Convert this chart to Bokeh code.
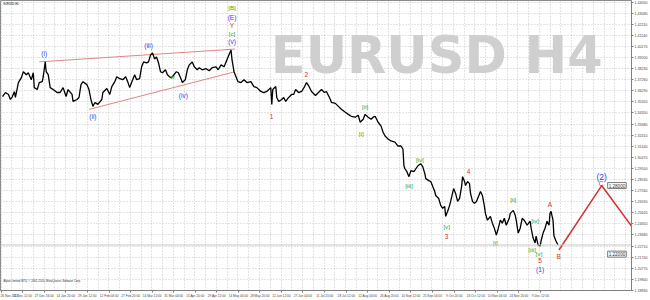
from bokeh.plotting import figure
from bokeh.models import Range1d, FixedTicker, Span, Label
from bokeh.core.properties import value
from bokeh.embed import file_html
from bokeh.resources import INLINE

symbol_title = "EURUSD,H4"
watermark = "EURUSD H4"
copyright_text = "Alpari Limited MT4, \u00a9 2001-2014, MetaQuotes Software Corp."

# H4 bar index and close price
bar_index = [
    6, 15, 24, 30, 36, 42, 45, 51, 54, 63,
    69, 78, 84, 93, 99, 102, 111, 117, 126, 129,
    135, 138, 144, 150, 159, 171, 180, 189, 198, 204,
    216, 219, 231, 237, 243, 249, 261, 267, 273, 279,
    285, 294, 306, 309, 321, 330, 336, 345, 351, 360,
    369, 378, 384, 390, 399, 405, 411, 420, 426, 432,
    441, 447, 453, 459, 465, 471, 477, 483, 489, 498,
    504, 513, 519, 531, 537, 546, 549, 558, 564, 570,
    579, 585, 594,
    600, 609, 621, 630, 639, 651, 657, 666, 675, 681,
    687, 696, 699, 705, 711, 717, 726, 735, 744, 756,
    765, 774, 786, 795, 804, 816, 819, 822, 831, 834,
    840, 849, 855, 861, 870, 879, 885, 891, 900, 909,
    918, 924, 930, 939, 951, 960, 969, 978, 984, 996,
    999, 1011, 1020, 1029, 1041, 1050, 1059, 1071, 1080, 1086,
    1095, 1101, 1110, 1119, 1125, 1131, 1140, 1149, 1155, 1161,
    1170, 1179, 1191, 1200, 1209,
    1215, 1218, 1221, 1227, 1233, 1239, 1248, 1254, 1260, 1269,
    1275, 1281, 1284, 1293, 1299, 1305, 1311, 1314, 1323, 1329,
    1335, 1341, 1344, 1350, 1356, 1359, 1368, 1374, 1380, 1386,
    1392, 1395, 1401, 1404, 1410, 1416, 1419, 1425, 1431, 1437,
    1443, 1449, 1455, 1461, 1464, 1470, 1479, 1485, 1491, 1497,
    1503, 1509, 1515, 1521, 1527, 1536, 1539, 1548, 1554, 1557,
    1563, 1569, 1575, 1581, 1590, 1599, 1602, 1608, 1614, 1617,
    1623, 1629, 1632, 1638, 1644, 1650, 1656, 1659, 1662, 1668,
    1671, 1677, 1683,
]
close_price = [
    1.3579, 1.3614, 1.3597, 1.3553, 1.3579, 1.3623, 1.3571, 1.3657, 1.3701, 1.3744,
    1.3796, 1.3770, 1.3787, 1.3726, 1.3787, 1.3657, 1.3640, 1.3701, 1.3709, 1.3752,
    1.3882, 1.3796, 1.3770, 1.3657, 1.3640, 1.3614, 1.3614, 1.3657, 1.3579, 1.3640,
    1.3597, 1.3536, 1.3553, 1.3571, 1.3683, 1.3709, 1.3683, 1.3640, 1.3553, 1.3493,
    1.3527, 1.3510, 1.3553, 1.3614, 1.3649, 1.3597, 1.3666, 1.3709, 1.3752, 1.3735,
    1.3726, 1.3752, 1.3709, 1.3657, 1.3726, 1.3770, 1.3726, 1.3735, 1.3839, 1.3882,
    1.3874, 1.3882, 1.3943, 1.3960, 1.3908, 1.3925, 1.3874, 1.3796, 1.3787, 1.3813,
    1.3770, 1.3744, 1.3752, 1.3796, 1.3787, 1.3726, 1.3701, 1.3726, 1.3813, 1.3856,
    1.3882, 1.3839, 1.3813,
    1.3831, 1.3813, 1.3822, 1.3804, 1.3831, 1.3839, 1.3813, 1.3856, 1.3839, 1.3882,
    1.3925, 1.3986, 1.3899, 1.3796, 1.3752, 1.3709, 1.3701, 1.3726, 1.3701, 1.3709,
    1.3666, 1.3657, 1.3623, 1.3614, 1.3623, 1.3657, 1.3510, 1.3640, 1.3666, 1.3571,
    1.3536, 1.3553, 1.3571, 1.3536, 1.3571, 1.3597, 1.3597, 1.3640, 1.3614, 1.3623,
    1.3666, 1.3701, 1.3675, 1.3623, 1.3588, 1.3614, 1.3640, 1.3614, 1.3623, 1.3553,
    1.3527, 1.3519, 1.3493, 1.3467, 1.3441, 1.3423, 1.3406, 1.3398, 1.3415, 1.3354,
    1.3380, 1.3423, 1.3398, 1.3380, 1.3398, 1.3406, 1.3354, 1.3320, 1.3267, 1.3233,
    1.3207, 1.3190, 1.3181, 1.3146, 1.3146,
    1.3120, 1.2973, 1.2947, 1.2921, 1.2878, 1.2930, 1.2921, 1.2947, 1.2973, 1.2991,
    1.2964, 1.2904, 1.2861, 1.2843, 1.2835, 1.2791, 1.2748, 1.2713, 1.2687, 1.2627,
    1.2601, 1.2618, 1.2531, 1.2575, 1.2627, 1.2661, 1.2774, 1.2731, 1.2661, 1.2687,
    1.2791, 1.2878, 1.2835, 1.2800, 1.2835, 1.2817, 1.2731, 1.2661, 1.2644, 1.2661,
    1.2705, 1.2748, 1.2713, 1.2618, 1.2557, 1.2497, 1.2531, 1.2471, 1.2427, 1.2367,
    1.2427, 1.2497, 1.2471, 1.2514, 1.2453, 1.2514, 1.2557, 1.2583, 1.2540, 1.2497,
    1.2384, 1.2427, 1.2514, 1.2497, 1.2453, 1.2488, 1.2427, 1.2341, 1.2298, 1.2358,
    1.2280, 1.2271, 1.2315, 1.2384, 1.2427, 1.2488, 1.2453, 1.2557, 1.2575, 1.2497,
    1.2358, 1.2315, 1.2280,
]

# wedge trend lines
upper_line_bar = [117, 708]
upper_line_price = [1.3882, 1.3994]
lower_line_bar = [267, 708]
lower_line_price = [1.3466, 1.3796]

# projected B-C path
projection_bar = [1686, 1815, 1905]
projection_price = [1.2236, 1.2800, 1.2445]

# horizontal-line price tags
level_prices = [1.28000, 1.22000]
level_tag_bar = 1833

# wave labels by colour
blue_text = ["(i)", "(ii)", "(iii)", "(iv)", "(E)", "(v)", "(1)"]
blue_bar = [132, 279, 447, 552, 699, 699, 1629]
blue_price = [1.3952, 1.3406, 1.4029, 1.3588, 1.4272, 1.4064, 1.2064]
big_blue_text = ["(2)"]
big_blue_bar = [1815]
big_blue_price = [1.2878]

green_text = ["[B]", "[c]", "w", "[i]", "[ii]", "[iii]", "[iv]", "[v]",
              "[i]", "[ii]", "[iii]", "[iv]", "[v]"]
green_bar = [699, 699, 519, 1089, 1101, 1233, 1266, 1347,
             1494, 1548, 1605, 1614, 1626]
green_price = [1.4359, 1.4134, 1.3752, 1.3259, 1.3493, 1.2800, 1.3025, 1.2445,
               1.2306, 1.2679, 1.2237, 1.2497, 1.2202]

red_text = ["Y", "1", "2", "3", "4", "5", "A", "B", "C"]
red_bar = [699, 818, 923, 1347, 1413, 1629, 1659, 1685, 1813]
red_price = [1.4203, 1.3406, 1.3770, 1.2358, 1.2921, 1.2142, 1.2635, 1.2176, 1.2817]

# axes
price_ticks = [1.4405, 1.4308, 1.4211, 1.4114, 1.4017, 1.3920, 1.3823, 1.3726,
               1.3629, 1.3532, 1.3435, 1.3338, 1.3241, 1.3144, 1.3047, 1.2950,
               1.2853, 1.2756, 1.2659, 1.2562, 1.2465, 1.2368, 1.2271, 1.2174,
               1.2077, 1.1980, 1.1883]
date_ticks = [2, 67, 132, 197, 262, 328, 393, 458, 523, 588, 653, 718, 783,
              848, 913, 979, 1044, 1109, 1174, 1239, 1304, 1370, 1435, 1500,
              1565, 1630]
date_labels = ["26 Nov 2013", "11 Dec 12:00", "27 Dec 16:00", "14 Jan 20:00",
               "29 Jan 12:00", "12 Feb 04:00", "27 Feb 20:00", "14 Mar 12:00",
               "31 Mar 04:00", "15 Apr 20:00", "29 Apr 12:00", "14 May 04:00",
               "28 May 20:00", "12 Jun 12:00", "27 Jun 04:00", "11 Jul 20:00",
               "28 Jul 12:00", "12 Aug 04:00", "26 Aug 20:00", "10 Sep 12:00",
               "25 Sep 04:00", "9 Oct 20:00", "24 Oct 12:00", "10 Nov 04:00",
               "24 Nov 20:00", "9 Dec 12:00"]

FONT = "Liberation Sans"
BLUE = "#3A3AF2"
GREEN = "#2DA52D"
RED = "#D63030"

p = figure(width=650, height=300, output_backend="svg", toolbar_location=None,
           x_range=Range1d(0, 1905), y_range=Range1d(1.1882, 1.4419),
           y_axis_location="right", background_fill_color="white",
           border_fill_color="white")
p.min_border_left = 0
p.min_border_top = 0
p.min_border_right = 0
p.min_border_bottom = 0
p.outline_line_color = "#8C8C8C"

# grid
half = (date_ticks[1] - date_ticks[0]) / 2.0
p.xgrid.ticker = FixedTicker(ticks=[date_ticks[0] + half * k for k in range(59)])
p.ygrid.ticker = FixedTicker(ticks=price_ticks)
for g in (p.xgrid, p.ygrid):
    g.grid_line_color = "#C8C8C8"
    g.grid_line_dash = "1 2"
    g.grid_line_width = 1

# axes
xa = p.xaxis[0]
xa.ticker = FixedTicker(ticks=date_ticks)
xa.major_label_overrides = {t: s for t, s in zip(date_ticks, date_labels)}
xa.major_label_text_align = "left"
xa.major_label_text_font = FONT
xa.major_label_text_font_size = "3.2px"
xa.major_label_standoff = 1
xa.major_tick_out = 2
xa.major_tick_in = 0
xa.minor_tick_out = 0
xa.minor_tick_in = 0
xa.axis_line_color = "#808080"
xa.major_tick_line_color = "#808080"

ya = p.yaxis[0]
ya.ticker = FixedTicker(ticks=price_ticks)
ya.major_label_overrides = {t: f"{t:.5f}" for t in price_ticks}
ya.major_label_text_font = FONT
ya.major_label_text_font_size = "3.6px"
ya.major_label_standoff = 1
ya.major_tick_out = 2
ya.major_tick_in = 0
ya.minor_tick_out = 0
ya.minor_tick_in = 0
ya.axis_line_color = "#808080"
ya.major_tick_line_color = "#808080"

# watermark
p.text(x=[816], y=[1.3934], text=[watermark], text_font=value("DejaVu Sans"),
       text_font_size=value("51px"), text_font_style="bold",
       text_color="#CFCFCF", text_align="left", text_baseline="alphabetic")

# current price line
p.add_layout(Span(location=close_price[-1], dimension="width",
                  line_color="#C8C8C8", line_width=1))

# wedge lines
p.line(upper_line_bar, upper_line_price, line_color="#E38585", line_width=1)
p.line(lower_line_bar, lower_line_price, line_color="#E38585", line_width=1)

# price
p.line(bar_index, close_price, line_color="black", line_width=1.3)

# projection
p.line(projection_bar, projection_price, line_color=RED, line_width=1.5)

# wave labels
def labels(xs, ys, ts, color, size):
    p.text(x=xs, y=ys, text=ts, text_font=value(FONT), text_font_size=value(size),
           text_color=color, text_align="center", text_baseline="middle")

labels(blue_bar, blue_price, blue_text, BLUE, "6.5px")
labels(big_blue_bar, big_blue_price, big_blue_text, BLUE, "8.5px")
labels(green_bar, green_price, green_text, GREEN, "6.2px")
labels(red_bar, red_price, red_text, RED, "6.5px")

# level tags
for lv in level_prices:
    p.add_layout(Label(x=level_tag_bar, y=lv, text=f"{lv:.5f}", text_font=FONT,
                       text_font_size="4.6px", text_color="#333333",
                       text_baseline="middle", text_align="left",
                       border_line_color="#7A7A7A", background_fill_color="white",
                       padding=1))

# current price tag on the axis
p.add_layout(Label(x=1909, y=close_price[-1], text=f"{close_price[-1]:.5f}",
                   text_font=FONT, text_font_size="4px", text_color="white",
                   text_baseline="middle", text_align="left",
                   background_fill_color="black", padding=1, level="overlay"))

# title and copyright
p.add_layout(Label(x=9, y=1.4385, text=symbol_title, text_font=FONT,
                   text_font_size="2.6px", text_color="black",
                   text_baseline="middle", text_align="left"))
p.add_layout(Label(x=9, y=1.1968, text=copyright_text, text_font=FONT,
                   text_font_size="2.8px", text_color="#333333",
                   text_baseline="middle", text_align="left"))

open("out.html", "w").write(file_html(p, INLINE))
